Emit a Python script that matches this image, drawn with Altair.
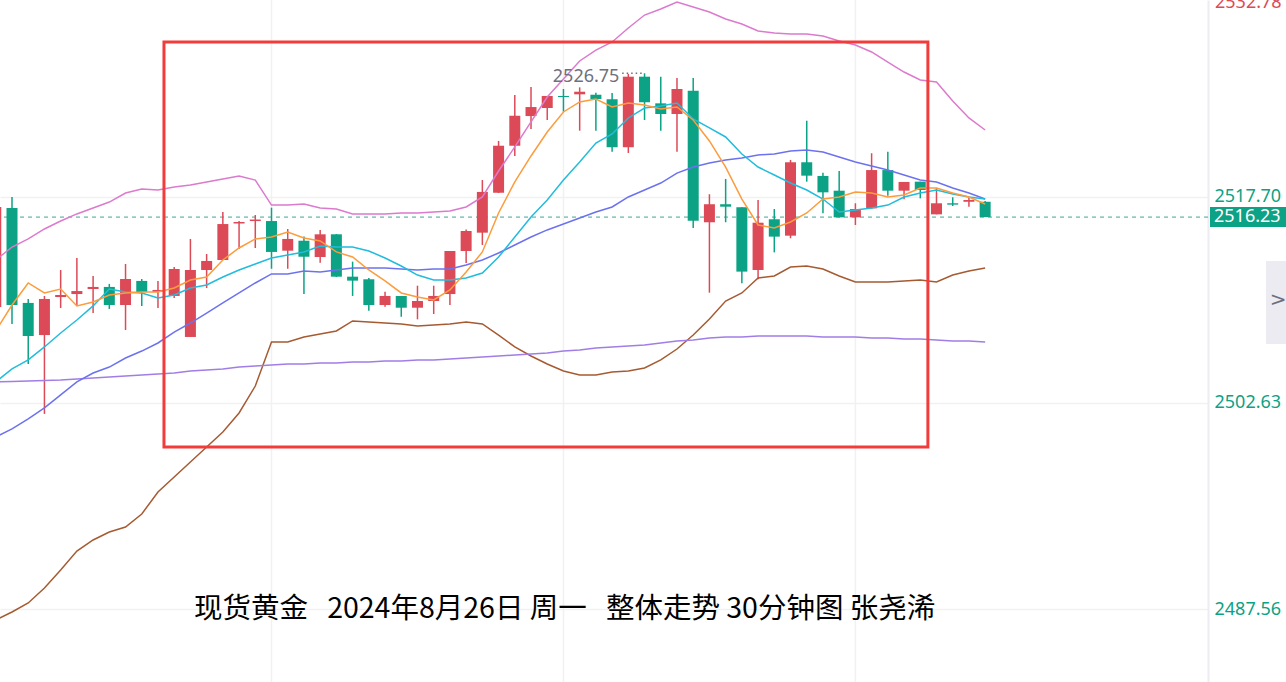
import altair as alt
import pandas as pd

# ---- candle data (index -1 is the partly hidden candle at the left edge) ----
idx = list(range(-1, 61))
opens = [2509.65, 2516.89, 2509.95, 2507.60, 2510.38, 2510.60, 2510.97, 2511.12, 2509.80, 2511.56, 2510.75,
         2510.46, 2507.46, 2512.36, 2513.09, 2515.76, 2515.94, 2515.94, 2513.77, 2514.50, 2513.31,
         2514.97, 2511.87, 2511.68, 2509.80, 2510.46, 2509.60, 2510.09, 2510.60, 2513.75, 2515.09,
         2518.01, 2521.45, 2523.62, 2524.21, 2525.09, 2525.21, 2525.18, 2524.85, 2521.34, 2526.50,
         2524.55, 2523.77, 2525.48, 2515.85, 2517.17, 2516.95, 2512.36, 2516.07, 2514.87, 2520.24,
         2519.24, 2518.16, 2516.21, 2516.87, 2519.67, 2518.16, 2518.82, 2516.43, 2517.24, 2517.35,
         2517.35]
highs = [2517.20, 2517.70, 2510.24, 2510.46, 2512.36, 2513.24, 2511.92, 2511.34, 2512.80, 2511.70, 2511.56,
         2512.58, 2514.63, 2513.53, 2516.60, 2515.94, 2516.38, 2516.92, 2515.36, 2514.81, 2515.29,
         2514.99, 2512.97, 2511.77, 2510.77, 2510.46, 2511.21, 2511.21, 2513.75, 2515.32, 2518.94,
         2521.80, 2525.16, 2525.75, 2525.09, 2525.60, 2525.72, 2525.33, 2525.31, 2526.70, 2526.75,
         2526.50, 2526.40, 2526.40, 2517.90, 2519.02, 2516.95, 2517.48, 2516.82, 2520.41, 2523.28,
         2519.48, 2519.60, 2517.24, 2520.90, 2521.01, 2518.80, 2518.82, 2518.34, 2517.68, 2517.65,
         2517.40]
lows = [2509.40, 2508.41, 2505.48, 2501.83, 2509.58, 2509.73, 2509.21, 2509.51, 2507.97, 2509.73, 2509.58,
        2510.31, 2507.46, 2511.04, 2513.09, 2513.90, 2513.97, 2512.45, 2512.45, 2510.60, 2512.89,
        2511.85, 2510.46, 2509.38, 2509.67, 2508.94, 2508.75, 2509.14, 2509.80, 2512.87, 2514.19,
        2517.99, 2520.70, 2522.67, 2523.33, 2523.94, 2522.55, 2522.55, 2521.01, 2520.92, 2523.33,
        2522.55, 2521.01, 2515.43, 2510.70, 2515.85, 2511.39, 2511.68, 2513.65, 2514.68, 2518.82,
        2516.51, 2516.21, 2515.65, 2516.87, 2517.79, 2517.53, 2517.60, 2516.43, 2517.04, 2516.99,
        2516.23]
closes = [2516.97, 2509.80, 2507.53, 2510.24, 2510.53, 2510.82, 2511.12, 2509.80, 2511.70, 2510.75, 2510.90,
          2512.43, 2512.36, 2513.02, 2515.72, 2515.87, 2516.05, 2513.68, 2514.63, 2513.33, 2514.97,
          2511.87, 2511.58, 2509.80, 2510.46, 2509.60, 2510.09, 2510.46, 2513.75, 2515.21, 2518.07,
          2521.45, 2523.65, 2524.28, 2525.09, 2525.01, 2525.40, 2524.87, 2521.34, 2526.50, 2524.63,
          2523.77, 2525.60, 2515.97, 2517.17, 2516.99, 2512.24, 2515.82, 2514.80, 2520.24, 2519.26,
          2518.04, 2516.21, 2516.82, 2519.67, 2518.16, 2518.80, 2518.21, 2517.24, 2517.14, 2517.48,
          2516.23]

# ---- indicator lines ----
ma_orange = [2507.90, 2509.80, 2511.41, 2510.68, 2510.97, 2509.73, 2510.02, 2510.53, 2510.68, 2510.75, 2510.75,
             2511.04, 2511.63, 2511.85, 2513.09, 2513.97, 2514.63, 2514.77, 2515.14, 2514.70, 2514.48,
             2513.68, 2513.31, 2512.36, 2511.56, 2510.68, 2510.38, 2510.17, 2510.90, 2512.21, 2513.68,
             2516.53, 2518.80, 2520.70, 2522.45, 2523.92, 2524.65, 2524.87, 2524.28, 2524.58, 2524.43,
             2524.14, 2524.28, 2523.33, 2521.80, 2519.89, 2517.55, 2515.65, 2515.43, 2515.87, 2516.53,
             2517.55, 2517.70, 2518.06, 2517.99, 2517.70, 2517.85, 2518.36, 2518.36, 2517.99, 2517.70,
             2517.19]
ma_cyan = [2504.17, 2505.12, 2505.78, 2506.73, 2507.75, 2508.70, 2509.73, 2510.97, 2510.75, 2510.68, 2510.31,
           2510.53, 2511.04, 2511.26, 2511.85, 2512.36, 2512.80, 2513.24, 2513.46, 2513.68, 2514.12,
           2514.04, 2514.04, 2513.75, 2513.24, 2512.65, 2511.99, 2511.63, 2511.63, 2511.77, 2512.14,
           2513.31, 2514.77, 2516.24, 2517.48, 2518.94, 2520.26, 2521.65, 2522.31, 2523.48, 2524.21,
           2524.36, 2524.58, 2523.41, 2522.75, 2522.09, 2520.84, 2519.89, 2519.31, 2518.72, 2518.21,
           2517.55, 2516.60, 2516.75, 2516.89, 2517.11, 2517.70, 2517.99, 2518.21, 2517.92, 2517.70,
           2517.55]
ma_blue = [2500.14, 2500.73, 2501.46, 2502.27, 2503.22, 2504.17, 2504.82, 2505.26, 2505.92, 2506.43, 2507.02,
           2507.82, 2508.48, 2509.21, 2509.95, 2510.68, 2511.41, 2512.07, 2512.07, 2512.29, 2512.21,
           2512.36, 2512.51, 2512.51, 2512.51, 2512.43, 2512.36, 2512.43, 2512.43, 2512.72, 2513.09,
           2513.60, 2514.19, 2514.77, 2515.29, 2515.72, 2516.16, 2516.60, 2516.97, 2517.70, 2518.21,
           2518.72, 2519.45, 2519.89, 2520.19, 2520.41, 2520.55, 2520.77, 2520.85, 2521.06, 2521.14,
           2520.99, 2520.63, 2520.26, 2519.97, 2519.67, 2519.31, 2518.94, 2518.80, 2518.36, 2517.99,
           2517.55]
ma_purple = [2504.17, 2504.20, 2504.24, 2504.28, 2504.31, 2504.39, 2504.46, 2504.53, 2504.61, 2504.68, 2504.75,
             2504.82, 2504.97, 2505.04, 2505.12, 2505.26, 2505.34, 2505.41, 2505.48, 2505.48, 2505.56,
             2505.56, 2505.63, 2505.63, 2505.70, 2505.70, 2505.78, 2505.78, 2505.85, 2505.92, 2506.00,
             2506.07, 2506.14, 2506.21, 2506.29, 2506.43, 2506.51, 2506.65, 2506.73, 2506.80, 2506.87,
             2507.02, 2507.17, 2507.24, 2507.39, 2507.46, 2507.46, 2507.53, 2507.53, 2507.53, 2507.53,
             2507.46, 2507.46, 2507.46, 2507.39, 2507.39, 2507.31, 2507.31, 2507.24, 2507.17, 2507.17,
             2507.09]
boll_upper = [2513.09, 2514.04, 2514.63, 2515.36, 2515.94, 2516.46, 2516.89, 2517.33, 2517.99, 2518.28, 2518.21,
              2518.43, 2518.58, 2518.80, 2519.02, 2519.24, 2518.94, 2517.11, 2517.11, 2517.19, 2516.89,
              2516.82, 2516.46, 2516.46, 2516.46, 2516.53, 2516.53, 2516.60, 2516.68, 2516.97, 2517.70,
              2519.60, 2521.36, 2523.19, 2525.01, 2526.33, 2527.65, 2528.45, 2529.04, 2530.06, 2531.01,
              2531.45, 2531.96, 2531.60, 2531.23, 2530.72, 2530.35, 2529.84, 2529.70, 2529.62, 2529.62,
              2529.48, 2529.11, 2528.82, 2528.31, 2527.57, 2526.84, 2526.26, 2526.11, 2524.72, 2523.48,
              2522.60]
boll_lower = [2486.76, 2487.34, 2488.00, 2489.10, 2490.41, 2491.80, 2492.61, 2493.19, 2493.56, 2494.51, 2496.12,
              2497.22, 2498.31, 2499.41, 2500.51, 2501.90, 2503.87, 2507.09, 2507.09, 2507.46, 2507.68,
              2507.90, 2508.63, 2508.56, 2508.48, 2508.41, 2508.26, 2508.34, 2508.41, 2508.56, 2508.41,
              2507.60, 2506.73, 2506.07, 2505.48, 2504.97, 2504.68, 2504.68, 2504.90, 2504.97, 2505.19,
              2505.78, 2506.58, 2507.60, 2508.78, 2510.09, 2510.68, 2511.77, 2511.92, 2512.58, 2512.65,
              2512.43, 2511.92, 2511.48, 2511.48, 2511.48, 2511.56, 2511.63, 2511.48, 2511.99, 2512.29,
              2512.51]

axis_values = [2487.56, 2502.63, 2517.70]
top_label = "2532.78"
last_price = 2516.23
high_price = 2526.75
vgrid = [16, 34, 52]
box = {"x1": 9.37, "x2": 56.47, "y1": 2529.04, "y2": 2499.41}
NB = "\u00a0"
title_text = f"现货黄金{NB * 3}2024年8月26日{NB}周一{NB * 3}整体走势{NB}30分钟图{NB}张尧浠"

RED = "#dd4a57"
GREEN = "#0ca285"

candles = pd.DataFrame({"i": idx, "open": opens, "high": highs, "low": lows, "close": closes})
series_names = ["upper", "lower", "long", "mid", "ma10", "ma5"]
series_vals = [boll_upper, boll_lower, ma_purple, ma_blue, ma_cyan, ma_orange]
series_colors = ["#dc7ace", "#a65a32", "#a07ee6", "#6c72ef", "#22bcdc", "#fc9c3c"]
lines = pd.DataFrame([
    {"i": i, "v": v, "s": name}
    for name, vals in zip(series_names, series_vals)
    for i, v in zip(idx, vals)
])

xscale = alt.Scale(domain=[-0.74, 73.74], nice=False, zero=False, padding=0)
yscale = alt.Scale(domain=[2482.22, 2532.11], nice=False, zero=False, padding=0)
yaxis = alt.Axis(orient="right", values=axis_values, format=".2f", title=None,
                 labelColor=GREEN, labelFontSize=18, labelFont="Noto Sans",
                 labelPadding=6, ticks=False, domain=True, domainColor="#ececf2",
                 domainWidth=2, grid=True, gridColor="#f1f1f3", gridWidth=1.5)

X = lambda f: alt.X(f, type="quantitative", scale=xscale, axis=None)
Y = lambda f: alt.Y(f, type="quantitative", scale=yscale, axis=yaxis)

color_cond = alt.condition("datum.close >= datum.open", alt.value(RED), alt.value(GREEN))

vgrid_layer = alt.Chart(pd.DataFrame({"i": vgrid})).mark_rule(
    color="#f1f1f3", strokeWidth=1.5).encode(x=X("i"))

price_line = alt.Chart(pd.DataFrame({"p": [last_price]})).mark_rule(
    color="#3aa895", strokeDash=[4, 4], strokeWidth=1).encode(y=Y("p"))

wicks = alt.Chart(candles).mark_rule(strokeWidth=1.5, clip=True).encode(
    x=X("i"), y=Y("low"), y2="high", color=color_cond)

bodies = alt.Chart(candles).mark_bar(size=11, clip=True).encode(
    x=X("i"), y=Y("open"), y2="close", color=color_cond)

line_layer = alt.Chart(lines).mark_line(strokeWidth=1.5, clip=True).encode(
    x=X("i"), y=Y("v"),
    color=alt.Color("s:N", scale=alt.Scale(domain=series_names, range=series_colors), legend=None),
    detail="s:N")

rect_layer = alt.Chart(pd.DataFrame([box])).mark_rect(
    fillOpacity=0, stroke="#f23b3b", strokeWidth=3).encode(
    x=X("x1"), x2="x2", y=Y("y1"), y2="y2")

hi_df = pd.DataFrame({"x": [37.45], "xe": [38.9], "xs": [37.62], "p": [high_price],
                      "t": [f"{high_price:.2f}"]})
hi_text = alt.Chart(hi_df).mark_text(align="right", baseline="middle", dy=4, fontSize=18,
                                     font="Noto Sans", color="#6f6f7d").encode(
    x=X("x"), y=Y("p"), text="t:N")
hi_dots = alt.Chart(hi_df).mark_rule(strokeDash=[1.5, 3], strokeWidth=1.5, color="#6f6f7d").encode(
    x=X("xs"), x2="xe", y=Y("p"))

box_df = pd.DataFrame({"p": [last_price], "t": [f"{last_price:.2f}"]})
price_box = alt.Chart(box_df).mark_rect(color=GREEN, yOffset=-10, y2Offset=10).encode(
    x=alt.value(1210), x2=alt.value(1286), y=Y("p"), y2="p")
price_txt = alt.Chart(box_df).mark_text(align="left", baseline="middle", fontSize=18,
                                        font="Noto Sans", color="white").encode(
    x=alt.value(1214), y=Y("p"), text="t:N")

top_txt = alt.Chart(pd.DataFrame({"t": [top_label]})).mark_text(
    align="left", baseline="middle", fontSize=18, font="Noto Sans", color=RED).encode(
    x=alt.value(1215), y=alt.value(3), text="t:N")

tab = alt.Chart(pd.DataFrame({"a": [0]})).mark_rect(color="#ebebf1").encode(
    x=alt.value(1266), x2=alt.value(1286), y=alt.value(261), y2=alt.value(344))
chev = alt.Chart(pd.DataFrame({"t": [">"]})).mark_text(
    fontSize=20, font="DejaVu Sans", color="#6e6e80", baseline="middle").encode(
    x=alt.value(1278), y=alt.value(300), text="t:N")

title = alt.Chart(pd.DataFrame({"t": [title_text]})).mark_text(
    align="left", baseline="middle", fontSize=28.5, font="Noto Sans CJK SC", color="#000000").encode(
    x=alt.value(194), y=alt.value(609), text="t:N")

chart = alt.layer(
    vgrid_layer, price_line, wicks, bodies, line_layer, rect_layer,
    hi_dots, hi_text, price_box, price_txt, top_txt, tab, chev, title
).properties(
    width=1208, height=682,
    padding={"left": 0, "top": 0, "right": 78, "bottom": 0},
    autosize="none", background="white"
).configure_view(stroke=None)

chart.save("out.html", embed_options={"renderer": "svg", "actions": False})
